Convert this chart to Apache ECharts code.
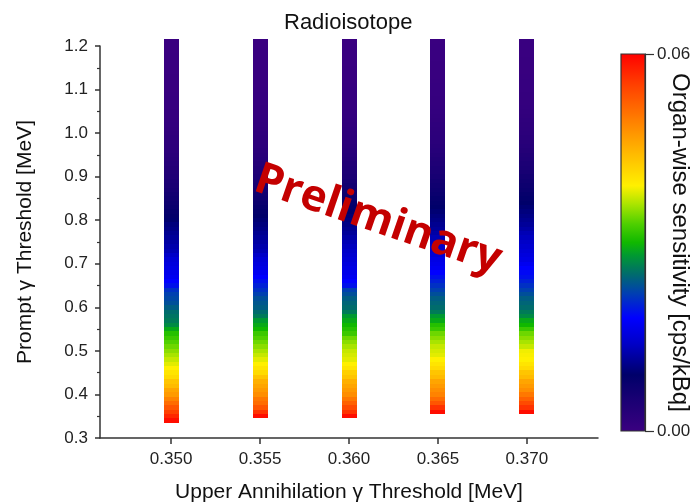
<!DOCTYPE html>
<html>
<head>
<meta charset="utf-8">
<script src="https://cdn.jsdelivr.net/npm/echarts@6/dist/echarts.min.js"></script>
<style>
  html, body { margin: 0; padding: 0; background: #fff; }
  #chart { width: 698px; height: 504px; }
</style>
</head>
<body>
<div id="chart"></div>
<script>
// Upper annihilation gamma thresholds [MeV] (one column each)
const annihilationThresholds = [0.350, 0.355, 0.360, 0.365, 0.370];

// Prompt gamma thresholds [MeV], one cell per value
const promptThresholds = [
  0.34, 0.35, 0.36, 0.37, 0.38, 0.39, 0.40, 0.41, 0.42, 0.43,
  0.44, 0.45, 0.46, 0.47, 0.48, 0.49, 0.50, 0.51, 0.52, 0.53,
  0.54, 0.55, 0.56, 0.57, 0.58, 0.59, 0.60, 0.61, 0.62, 0.63,
  0.64, 0.65, 0.66, 0.67, 0.68, 0.69, 0.70, 0.71, 0.72, 0.73,
  0.74, 0.75, 0.76, 0.77, 0.78, 0.79, 0.80, 0.81, 0.82, 0.83,
  0.84, 0.85, 0.86, 0.87, 0.88, 0.89, 0.90, 0.91, 0.92, 0.93,
  0.94, 0.95, 0.96, 0.97, 0.98, 0.99, 1.00, 1.01, 1.02, 1.03,
  1.04, 1.05, 1.06, 1.07, 1.08, 1.09, 1.10, 1.11, 1.12, 1.13,
  1.14, 1.15, 1.16, 1.17, 1.18, 1.19, 1.20, 1.21
];

// Organ-wise sensitivity [cps/kBq] per prompt threshold (null = not evaluated)
const sensitivity350 = [
  0.059, 0.057, 0.055, 0.053, 0.051, 0.049, 0.047, 0.046, 0.044, 0.043,
  0.041, 0.040, 0.039, 0.038, 0.037, 0.036, 0.035, 0.034, 0.033, 0.032,
  0.031, 0.029, 0.027, 0.026, 0.0255, 0.025, 0.024, 0.023, 0.0225, 0.022,
  0.021, 0.019, 0.018, 0.017, 0.0165, 0.016, 0.0155, 0.015, 0.014, 0.013,
  0.0125, 0.012, 0.0115, 0.011, 0.0105, 0.010, 0.0092, 0.0085, 0.008, 0.0075,
  0.007, 0.0065, 0.006, 0.0055, 0.005, 0.0046, 0.0042, 0.0038, 0.0034, 0.0031,
  0.0028, 0.0025, 0.0022, 0.002, 0.0018, 0.0016, 0.0014, 0.0012, 0.0011, 0.001,
  0.0009, 0.0008, 0.0007, 0.0006, 0.0006, 0.0005, 0.0004, 0.0004, 0.0003, 0.0003,
  0.0002, 0.0002, 0.0001, 0.0001, 0.0001, 0, 0, 0
];
const sensitivity355 = [
  null, 0.059, 0.056, 0.053, 0.051, 0.050, 0.048, 0.047, 0.046, 0.045,
  0.043, 0.041, 0.040, 0.039, 0.038, 0.037, 0.036, 0.035, 0.034, 0.033,
  0.032, 0.030, 0.029, 0.028, 0.026, 0.025, 0.024, 0.0235, 0.023, 0.022,
  0.021, 0.020, 0.019, 0.018, 0.017, 0.016, 0.0155, 0.015, 0.014, 0.013,
  0.0125, 0.012, 0.0115, 0.011, 0.0105, 0.010, 0.0095, 0.009, 0.0085, 0.008,
  0.0075, 0.007, 0.0065, 0.006, 0.0055, 0.005, 0.0046, 0.0042, 0.0038, 0.0034,
  0.0031, 0.0028, 0.0025, 0.0022, 0.002, 0.0018, 0.0016, 0.0014, 0.0012, 0.0011,
  0.001, 0.0009, 0.0008, 0.0007, 0.0006, 0.0006, 0.0005, 0.0004, 0.0004, 0.0003,
  0.0003, 0.0002, 0.0002, 0.0001, 0.0001, 0.0001, 0, 0
];
const sensitivity360 = [
  null, 0.059, 0.056, 0.054, 0.052, 0.050, 0.048, 0.047, 0.046, 0.045,
  0.043, 0.042, 0.040, 0.039, 0.038, 0.0375, 0.037, 0.036, 0.035, 0.034,
  0.032, 0.031, 0.030, 0.029, 0.028, 0.026, 0.025, 0.0245, 0.024, 0.023,
  0.022, 0.019, 0.018, 0.017, 0.0165, 0.016, 0.0155, 0.015, 0.0145, 0.014,
  0.0135, 0.013, 0.0122, 0.0115, 0.011, 0.0105, 0.010, 0.0095, 0.009, 0.0085,
  0.008, 0.0075, 0.007, 0.0065, 0.006, 0.0055, 0.005, 0.0046, 0.0042, 0.0038,
  0.0034, 0.0031, 0.0028, 0.0025, 0.0022, 0.002, 0.0018, 0.0016, 0.0014, 0.0012,
  0.0011, 0.001, 0.0009, 0.0008, 0.0007, 0.0006, 0.0006, 0.0005, 0.0004, 0.0004,
  0.0003, 0.0003, 0.0002, 0.0002, 0.0001, 0.0001, 0.0001, 0
];
const sensitivity365 = [
  null, null, 0.059, 0.056, 0.053, 0.051, 0.049, 0.048, 0.047, 0.046,
  0.044, 0.043, 0.041, 0.040, 0.039, 0.038, 0.0375, 0.037, 0.036, 0.035,
  0.034, 0.032, 0.031, 0.029, 0.028, 0.026, 0.025, 0.0245, 0.024, 0.023,
  0.022, 0.021, 0.020, 0.019, 0.018, 0.017, 0.0165, 0.016, 0.015, 0.0145,
  0.014, 0.0135, 0.013, 0.0122, 0.0115, 0.011, 0.0105, 0.010, 0.0095, 0.009,
  0.0085, 0.008, 0.0075, 0.007, 0.0065, 0.006, 0.0055, 0.005, 0.0046, 0.0042,
  0.0038, 0.0034, 0.0031, 0.0028, 0.0025, 0.0022, 0.002, 0.0018, 0.0016, 0.0014,
  0.0012, 0.0011, 0.001, 0.0009, 0.0008, 0.0007, 0.0006, 0.0006, 0.0005, 0.0004,
  0.0004, 0.0003, 0.0003, 0.0002, 0.0002, 0.0001, 0.0001, 0
];
const sensitivity370 = [
  null, null, 0.059, 0.056, 0.054, 0.052, 0.050, 0.048, 0.047, 0.046,
  0.044, 0.043, 0.041, 0.040, 0.039, 0.0388, 0.0385, 0.037, 0.036, 0.035,
  0.034, 0.032, 0.030, 0.029, 0.027, 0.026, 0.025, 0.0245, 0.024, 0.023,
  0.022, 0.021, 0.020, 0.019, 0.0185, 0.018, 0.017, 0.016, 0.0155, 0.015,
  0.0145, 0.014, 0.0135, 0.013, 0.0122, 0.0115, 0.011, 0.0105, 0.010, 0.0095,
  0.009, 0.0085, 0.008, 0.0075, 0.007, 0.0065, 0.006, 0.0055, 0.005, 0.0046,
  0.0042, 0.0038, 0.0034, 0.0031, 0.0028, 0.0025, 0.0022, 0.002, 0.0018, 0.0016,
  0.0014, 0.0012, 0.0011, 0.001, 0.0009, 0.0008, 0.0007, 0.0006, 0.0006, 0.0005,
  0.0004, 0.0004, 0.0003, 0.0003, 0.0002, 0.0002, 0.0001, 0.0001
];

const sensitivityColumns = [sensitivity350, sensitivity355, sensitivity360, sensitivity365, sensitivity370];

// Colour scale range [cps/kBq]
const scaleMin = 0.0;
const scaleMax = 0.06;

// Cell height along the prompt-threshold axis [MeV]
const promptStep = 0.01;

// Rainbow palette: [sensitivity, colour] stops
const paletteStops = [
  [0.000, '#3a0080'], [0.009, '#00006a'], [0.014, '#0000c8'], [0.018, '#0000ff'],
  [0.022, '#0040b0'], [0.025, '#006c6c'], [0.028, '#009a30'], [0.030, '#10b800'],
  [0.033, '#50d000'], [0.036, '#a8e400'], [0.039, '#fff000'], [0.045, '#ffb000'],
  [0.050, '#ff7800'], [0.055, '#ff4000'], [0.060, '#ff0000']
];

// Resample the stops into an evenly spaced colour list for the visualMap
function hexToRgb(h) {
  return [parseInt(h.slice(1, 3), 16), parseInt(h.slice(3, 5), 16), parseInt(h.slice(5, 7), 16)];
}
function paletteAt(v) {
  for (let i = 1; i < paletteStops.length; i++) {
    const [v1, c1] = paletteStops[i];
    const [v0, c0] = paletteStops[i - 1];
    if (v <= v1 + 1e-12) {
      const t = (v - v0) / (v1 - v0);
      const a = hexToRgb(c0), b = hexToRgb(c1);
      return 'rgb(' + a.map((x, k) => Math.round(x + (b[k] - x) * t)).join(',') + ')';
    }
  }
  return paletteStops[paletteStops.length - 1][1];
}
const RAMP_N = 120;
const rampColors = [];
for (let i = 0; i <= RAMP_N; i++) rampColors.push(paletteAt(scaleMin + (scaleMax - scaleMin) * i / RAMP_N));

// Build [annihilation, prompt, sensitivity] triples
const cells = [];
annihilationThresholds.forEach((x, ci) => {
  sensitivityColumns[ci].forEach((v, ri) => {
    if (v !== null) cells.push([x, promptThresholds[ri], v]);
  });
});

const FONT = '"Liberation Sans", Arial, Helvetica, sans-serif';
const chart = echarts.init(document.getElementById('chart'), null, { renderer: 'canvas' });

// Colour bar box (bottom = scaleMin, top = scaleMax)
const BAR = { left: 621, top: 54, width: 24, height: 377 };

chart.setOption({
  backgroundColor: '#ffffff',
  animation: false,
  title: {
    text: 'Radioisotope',
    left: 279,
    top: 7,
    textStyle: { fontFamily: FONT, fontSize: 22, fontWeight: 'normal', color: '#111' }
  },
  grid: [
    { left: 100, top: 46, width: 498, height: 392, containLabel: false, outerBoundsMode: 'none' },
    { left: BAR.left, top: BAR.top, width: BAR.width, height: BAR.height,
      containLabel: false, outerBoundsMode: 'none' }
  ],
  xAxis: [
    {
      type: 'value', gridIndex: 0, min: 0.346, max: 0.374,
      name: 'Upper Annihilation γ Threshold [MeV]',
      nameLocation: 'middle', nameGap: 44,
      nameTextStyle: { fontFamily: FONT, fontSize: 21, color: '#111' },
      axisLine: { show: true, onZero: false, lineStyle: { color: '#333', width: 1.5 } },
      axisTick: { show: true, length: 6, lineStyle: { color: '#333', width: 1.5 },
                  customValues: annihilationThresholds },
      axisLabel: { customValues: annihilationThresholds, margin: 13,
                   fontFamily: FONT, fontSize: 17, color: '#222',
                   formatter: v => v.toFixed(3) },
      splitLine: { show: false }
    },
    { type: 'value', gridIndex: 1, show: false, min: 0, max: 1 }
  ],
  yAxis: [
    {
      type: 'value', gridIndex: 0, min: 0.3, max: 1.2, interval: 0.1,
      name: 'Prompt γ Threshold [MeV]',
      nameLocation: 'middle', nameGap: 64,
      nameTextStyle: { fontFamily: FONT, fontSize: 21, color: '#111' },
      axisLine: { show: true, onZero: false, lineStyle: { color: '#333', width: 1.5 } },
      axisTick: { show: true, length: 5, lineStyle: { color: '#333', width: 1.5 } },
      minorTick: { show: true, splitNumber: 2, length: 3, lineStyle: { color: '#333', width: 1.2 } },
      axisLabel: { margin: 12, fontFamily: FONT, fontSize: 17, color: '#222',
                   formatter: v => v.toFixed(1) },
      splitLine: { show: false }
    },
    {
      type: 'value', gridIndex: 1, position: 'right', min: scaleMin, max: scaleMax, interval: 0.06,
      name: 'Organ-wise sensitivity [cps/kBq]',
      nameLocation: 'middle', nameRotate: -90, nameGap: 23, nameMoveOverlap: false,
      nameTextStyle: { fontFamily: FONT, fontSize: 24, color: '#111' },
      axisLine: { show: true, onZero: false, lineStyle: { color: '#333', width: 1.2 } },
      axisTick: { show: true, inside: false, length: 9, lineStyle: { color: '#333', width: 1.2 } },
      axisLabel: { margin: 12, fontFamily: FONT, fontSize: 17, color: '#222',
                   formatter: v => v.toFixed(2) },
      splitLine: { show: false }
    }
  ],
  visualMap: {
    type: 'continuous',
    show: false,
    seriesIndex: 0,
    dimension: 2,
    min: scaleMin,
    max: scaleMax,
    inRange: { color: rampColors }
  },
  series: [
    {
      type: 'custom',
      coordinateSystem: 'cartesian2d',
      xAxisIndex: 0,
      yAxisIndex: 0,
      clip: false,
      encode: { x: 0, y: 1 },
      data: cells,
      renderItem: function (params, api) {
        const x = api.value(0);
        const y = api.value(1);
        const top = api.coord([x, y + promptStep / 2]);
        const bottom = api.coord([x, y - promptStep / 2]);
        const y0 = Math.round(top[1]);
        const y1 = Math.round(bottom[1]);
        return {
          type: 'rect',
          shape: { x: Math.round(top[0] - 7.5), y: y0, width: 15, height: y1 - y0 },
          style: { fill: api.visual('color') }
        };
      }
    }
  ],
  graphic: [
    {
      // colour bar filled with the same ramp as the visualMap
      type: 'rect',
      z: 50,
      shape: { x: BAR.left, y: BAR.top, width: BAR.width, height: BAR.height },
      style: {
        fill: new echarts.graphic.LinearGradient(0, 1, 0, 0,
          rampColors.map((c, i) => ({ offset: i / RAMP_N, color: c }))),
        stroke: '#333',
        lineWidth: 1.2
      }
    },
    {
      type: 'text',
      x: 378, y: 220,
      rotation: -0.33,
      z: 100,
      style: {
        text: 'Preliminary',
        fill: '#c40000',
        font: 'bold 44px "Open Sans", "DejaVu Sans", sans-serif',
        align: 'center',
        verticalAlign: 'middle'
      }
    }
  ]
});
</script>
</body>
</html>
